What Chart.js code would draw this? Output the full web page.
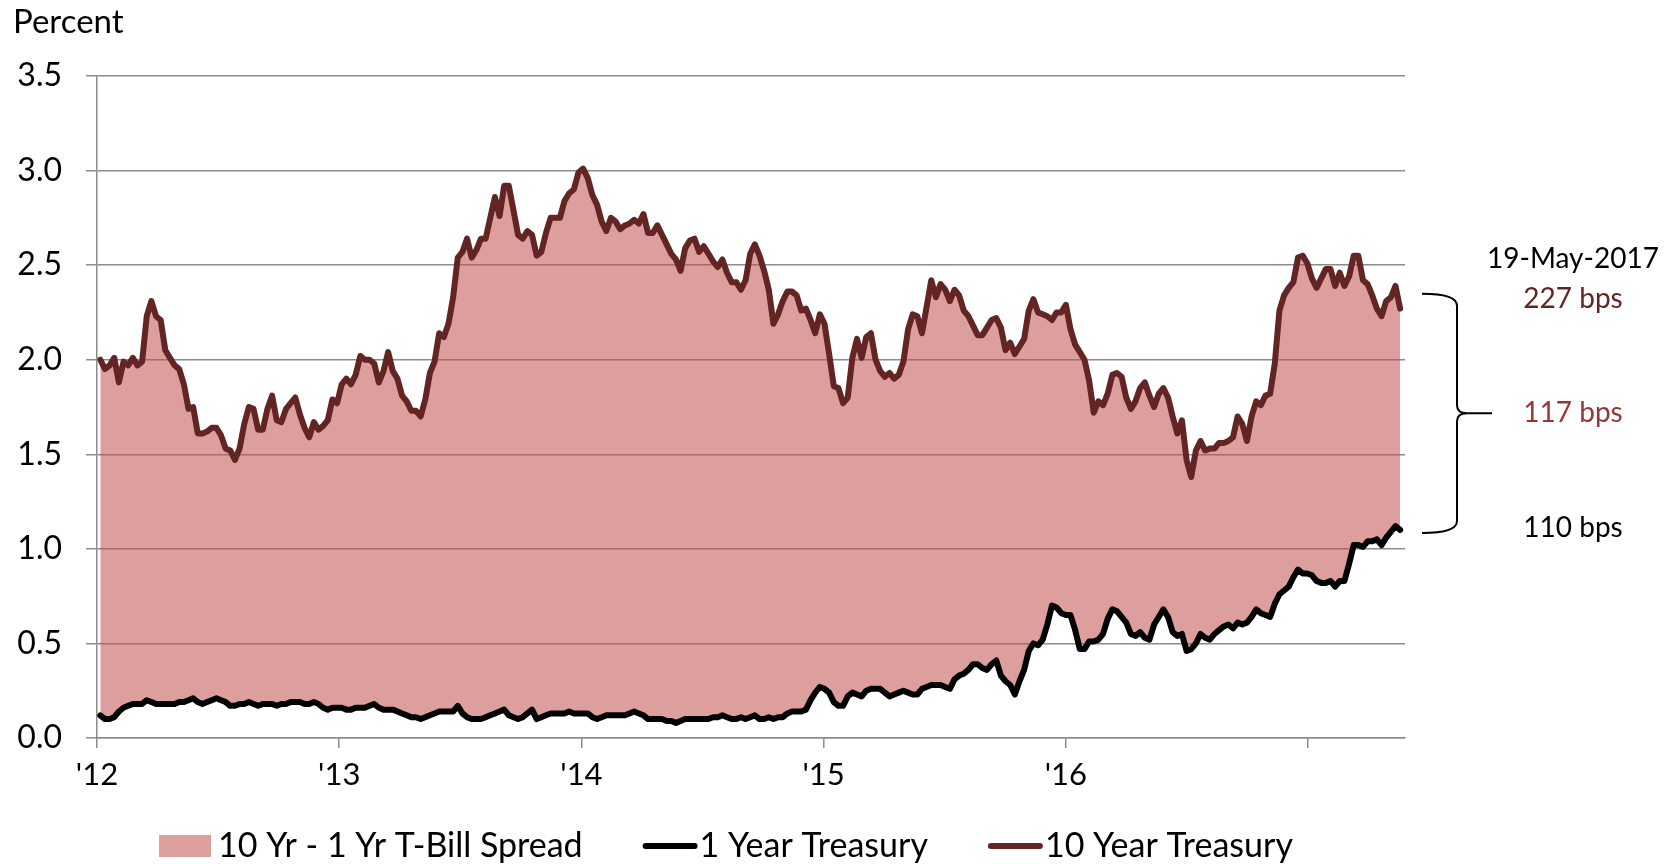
<!DOCTYPE html>
<html>
<head>
<meta charset="utf-8">
<title>10 Yr - 1 Yr Treasury Spread</title>
<script src="https://cdn.jsdelivr.net/npm/chart.js@4.4.1/dist/chart.umd.min.js"></script>
<style>
  html, body { margin: 0; padding: 0; background: #fff; }
  canvas { display: block; }
</style>
</head>
<body>
<canvas id="spreadChart" width="1679" height="864"></canvas>
<script>
// Weekly yields (percent), Friday 6-Jan-2012 through Friday 19-May-2017
const tenYear = [
  2.00, 1.95, 1.97, 2.01, 1.88, 1.99, 1.97, 2.01, 1.97, 1.99,
  2.23, 2.31, 2.23, 2.21, 2.05, 2.01, 1.97, 1.95, 1.87, 1.74,
  1.75, 1.61, 1.61, 1.62, 1.64, 1.64, 1.60, 1.53, 1.52, 1.47,
  1.53, 1.66, 1.75, 1.74, 1.63, 1.63, 1.74, 1.81, 1.68, 1.67,
  1.74, 1.77, 1.80, 1.71, 1.64, 1.59, 1.67, 1.63, 1.65, 1.68,
  1.79, 1.77, 1.87, 1.90, 1.87, 1.92, 2.02, 2.00, 2.00, 1.98,
  1.88, 1.94, 2.04, 1.94, 1.90, 1.81, 1.78, 1.73, 1.73, 1.70,
  1.79, 1.93, 1.99, 2.14, 2.12, 2.19, 2.33, 2.54, 2.57, 2.64,
  2.54, 2.58, 2.64, 2.64, 2.75, 2.86, 2.76, 2.92, 2.92, 2.79,
  2.66, 2.64, 2.68, 2.66, 2.55, 2.57, 2.67, 2.75, 2.75, 2.75,
  2.84, 2.88, 2.90, 2.99, 3.01, 2.96, 2.87, 2.82, 2.73, 2.68,
  2.75, 2.73, 2.69, 2.71, 2.72, 2.74, 2.72, 2.77, 2.67, 2.67,
  2.71, 2.66, 2.61, 2.56, 2.53, 2.47, 2.59, 2.63, 2.64, 2.57,
  2.60, 2.56, 2.52, 2.49, 2.53, 2.46, 2.41, 2.41, 2.37, 2.42,
  2.56, 2.61, 2.55, 2.47, 2.37, 2.19, 2.24, 2.31, 2.36, 2.36,
  2.34, 2.26, 2.27, 2.21, 2.14, 2.24, 2.19, 2.03, 1.86, 1.85,
  1.77, 1.80, 2.01, 2.11, 2.01, 2.12, 2.14, 2.00, 1.94, 1.91,
  1.93, 1.90, 1.92, 1.99, 2.16, 2.24, 2.23, 2.14, 2.28, 2.42,
  2.33, 2.40, 2.37, 2.31, 2.37, 2.34, 2.26, 2.23, 2.18, 2.13,
  2.13, 2.17, 2.21, 2.22, 2.17, 2.05, 2.09, 2.03, 2.07, 2.11,
  2.26, 2.32, 2.25, 2.24, 2.23, 2.21, 2.25, 2.25, 2.29, 2.16,
  2.08, 2.04, 2.00, 1.89, 1.72, 1.78, 1.76, 1.82, 1.92, 1.93,
  1.91, 1.80, 1.74, 1.78, 1.85, 1.88, 1.81, 1.75, 1.82, 1.85,
  1.80, 1.70, 1.61, 1.68, 1.47, 1.38, 1.52, 1.57, 1.52, 1.53,
  1.53, 1.56, 1.56, 1.57, 1.59, 1.70, 1.66, 1.57, 1.70, 1.78,
  1.76, 1.81, 1.82, 1.98, 2.26, 2.34, 2.38, 2.41, 2.54, 2.55,
  2.51, 2.43, 2.38, 2.43, 2.48, 2.48, 2.39, 2.46, 2.39, 2.44,
  2.55, 2.55, 2.42, 2.40, 2.34, 2.27, 2.23, 2.31, 2.33, 2.39, 2.27
];

const oneYear = [
  0.12, 0.10, 0.10, 0.11, 0.14, 0.16, 0.17, 0.18, 0.18, 0.18,
  0.20, 0.19, 0.18, 0.18, 0.18, 0.18, 0.18, 0.19, 0.19, 0.20,
  0.21, 0.19, 0.18, 0.19, 0.20, 0.21, 0.20, 0.19, 0.17, 0.17,
  0.18, 0.18, 0.19, 0.18, 0.17, 0.18, 0.18, 0.18, 0.17, 0.18,
  0.18, 0.19, 0.19, 0.19, 0.18, 0.18, 0.19, 0.18, 0.16, 0.15,
  0.16, 0.16, 0.16, 0.15, 0.15, 0.16, 0.16, 0.16, 0.17, 0.18,
  0.16, 0.15, 0.15, 0.15, 0.14, 0.13, 0.12, 0.11, 0.11, 0.10,
  0.11, 0.12, 0.13, 0.14, 0.14, 0.14, 0.14, 0.17, 0.13, 0.11,
  0.10, 0.10, 0.10, 0.11, 0.12, 0.13, 0.14, 0.15, 0.12, 0.11,
  0.10, 0.11, 0.13, 0.15, 0.10, 0.11, 0.12, 0.13, 0.13, 0.13,
  0.13, 0.14, 0.13, 0.13, 0.13, 0.13, 0.11, 0.10, 0.11, 0.12,
  0.12, 0.12, 0.12, 0.12, 0.13, 0.14, 0.13, 0.12, 0.10, 0.10,
  0.10, 0.10, 0.09, 0.09, 0.08, 0.09, 0.10, 0.10, 0.10, 0.10,
  0.10, 0.10, 0.11, 0.11, 0.12, 0.11, 0.10, 0.10, 0.11, 0.10,
  0.11, 0.12, 0.10, 0.10, 0.11, 0.10, 0.11, 0.11, 0.13, 0.14,
  0.14, 0.14, 0.15, 0.20, 0.24, 0.27, 0.26, 0.24, 0.19, 0.17,
  0.17, 0.22, 0.24, 0.23, 0.22, 0.25, 0.26, 0.26, 0.26, 0.24,
  0.22, 0.23, 0.24, 0.25, 0.24, 0.23, 0.23, 0.26, 0.27, 0.28,
  0.28, 0.28, 0.27, 0.26, 0.31, 0.33, 0.34, 0.36, 0.39, 0.39,
  0.37, 0.36, 0.39, 0.41, 0.33, 0.30, 0.28, 0.23, 0.30, 0.36,
  0.46, 0.50, 0.49, 0.52, 0.60, 0.70, 0.69, 0.66, 0.65, 0.65,
  0.57, 0.47, 0.47, 0.51, 0.51, 0.52, 0.55, 0.63, 0.68, 0.67,
  0.64, 0.61, 0.55, 0.54, 0.56, 0.53, 0.52, 0.60, 0.64, 0.68,
  0.64, 0.56, 0.54, 0.55, 0.46, 0.47, 0.50, 0.55, 0.53, 0.52,
  0.55, 0.57, 0.59, 0.60, 0.58, 0.61, 0.60, 0.61, 0.64, 0.68,
  0.66, 0.65, 0.64, 0.71, 0.76, 0.78, 0.80, 0.85, 0.89, 0.87,
  0.87, 0.86, 0.83, 0.82, 0.82, 0.83, 0.80, 0.83, 0.83, 0.92,
  1.02, 1.02, 1.01, 1.04, 1.04, 1.05, 1.02, 1.06, 1.09, 1.12, 1.10
];

const yearTicks = [2012, 2013, 2014, 2015, 2016, 2017];
const yearLabels = ["'12", "'13", "'14", "'15", "'16", ''];
const yTicks = [0, 0.5, 1.0, 1.5, 2.0, 2.5, 3.0, 3.5];
const lastDateLabel = '19-May-2017';

const gridGray = '#8c8c8c';
const tenYearColor = '#632523';
const spreadText = '#953735';
const spreadFill = 'rgba(192, 80, 77, 0.55)';
const fontFamily = 'Lato, "Open Sans", sans-serif';

// first Friday is day 5 of 2012; one point per week after that
function toPoints(values) {
  return values.map(function (v, i) {
    return { x: 2012 + (5 + 7 * i) / 365.25, y: v };
  });
}

// "Percent" label, the legend row, and the bracket with bps readouts on the right
const extrasPlugin = {
  id: 'extras',
  afterDraw: function (chart) {
    const c = chart.ctx;
    const area = chart.chartArea;
    const yScale = chart.scales.y;
    c.save();

    c.fillStyle = '#000';
    c.font = '33px ' + fontFamily;
    c.textAlign = 'left';
    c.textBaseline = 'alphabetic';
    c.fillText('Percent', 13, 33);

    // legend
    const baseY = area.bottom + 119;
    let x = area.left + 62;
    c.font = '34px ' + fontFamily;
    chart.data.datasets.forEach(function (ds) {
      if (ds.fill) {
        c.fillStyle = ds.backgroundColor;
        c.fillRect(x, baseY - 22, 52, 22);
        x += 59;
      } else {
        c.strokeStyle = ds.borderColor;
        c.lineWidth = 6;
        c.lineCap = 'round';
        c.beginPath();
        c.moveTo(x + 3, baseY - 11);
        c.lineTo(x + 52, baseY - 11);
        c.stroke();
        x += 57;
      }
      c.fillStyle = '#000';
      c.fillText(ds.label, x, baseY);
      x += c.measureText(ds.label).width + 60;
    });

    // readouts for the last week
    const last10 = tenYear[tenYear.length - 1];
    const last1 = oneYear[oneYear.length - 1];
    const bps = function (v) { return Math.round(v * 100) + ' bps'; };
    const yTop = yScale.getPixelForValue(last10) - 10;
    const yBot = yScale.getPixelForValue(last1) - 2;
    const yMid = (yTop + yBot) / 2;
    const tx = area.right + 168;

    c.font = '28px ' + fontFamily;
    c.textAlign = 'center';
    c.textBaseline = 'middle';
    c.fillStyle = '#000';
    c.fillText(lastDateLabel, tx, yTop - 40);
    c.fillStyle = tenYearColor;
    c.fillText(bps(last10), tx, yTop);
    c.fillStyle = spreadText;
    c.fillText(bps(last10 - last1), tx, yMid);
    c.fillStyle = '#000';
    c.fillText(bps(last1), tx, yBot);

    // right curly bracket
    const x0 = area.right + 17;
    const xs = area.right + 52;
    const xt = area.right + 87;
    const top = yTop - 5;
    const bot = yBot + 5;
    const r = 12;
    c.strokeStyle = '#000';
    c.lineWidth = 2;
    c.lineCap = 'butt';
    c.beginPath();
    c.moveTo(x0, top);
    c.quadraticCurveTo(xs, top, xs, top + r);
    c.lineTo(xs, yMid - 8);
    c.quadraticCurveTo(xs, yMid, xs + 10, yMid);
    c.lineTo(xt, yMid);
    c.moveTo(xs + 10, yMid);
    c.quadraticCurveTo(xs, yMid, xs, yMid + 8);
    c.lineTo(xs, bot - r);
    c.quadraticCurveTo(xs, bot, x0, bot);
    c.stroke();

    c.restore();
  }
};

const ctx = document.getElementById('spreadChart').getContext('2d');
Chart.defaults.font.family = fontFamily;
Chart.defaults.color = '#000';

const spreadChart = new Chart(ctx, {
  type: 'line',
  data: {
    datasets: [{
      label: '10 Yr - 1 Yr T-Bill Spread',
      data: toPoints(tenYear),
      fill: '+1',
      backgroundColor: spreadFill,
      borderWidth: 0,
      pointRadius: 0
    }, {
      label: '1 Year Treasury',
      data: toPoints(oneYear),
      fill: false,
      borderColor: '#000',
      borderWidth: 6,
      borderJoinStyle: 'round',
      borderCapStyle: 'round',
      pointRadius: 0
    }, {
      label: '10 Year Treasury',
      data: toPoints(tenYear),
      fill: false,
      borderColor: tenYearColor,
      borderWidth: 6,
      borderJoinStyle: 'round',
      borderCapStyle: 'round',
      pointRadius: 0
    }]
  },
  options: {
    responsive: false,
    animation: false,
    layout: {
      padding: { top: 76, right: 274, bottom: 64, left: 0 }
    },
    elements: {
      line: { tension: 0 }
    },
    scales: {
      x: {
        type: 'linear',
        min: 2012,
        max: 2017.4,
        afterBuildTicks: function (axis) {
          axis.ticks = yearTicks.map(function (v) { return { value: v }; });
        },
        afterFit: function (axis) { axis.height = 62; },
        grid: {
          drawOnChartArea: false,
          drawTicks: true,
          tickLength: 10,
          color: gridGray,
          lineWidth: 1.5
        },
        border: { color: gridGray, width: 1.5 },
        ticks: {
          autoSkip: false,
          maxRotation: 0,
          padding: 8,
          font: { size: 31 },
          callback: function (value) { return yearLabels[yearTicks.indexOf(value)]; }
        }
      },
      y: {
        min: 0,
        max: 3.5,
        afterBuildTicks: function (axis) {
          axis.ticks = yTicks.map(function (v) { return { value: v }; });
        },
        afterFit: function (axis) { axis.width = 97; },
        grid: {
          color: gridGray,
          lineWidth: 1.5,
          tickLength: 11
        },
        border: { color: gridGray, width: 1.5 },
        ticks: {
          padding: 24,
          font: { size: 32 },
          callback: function (value) { return value.toFixed(1); }
        }
      }
    },
    plugins: {
      legend: { display: false },
      tooltip: { enabled: false },
      filler: { drawTime: 'beforeDatasetsDraw' }
    }
  },
  plugins: [extrasPlugin]
});
</script>
</body>
</html>
